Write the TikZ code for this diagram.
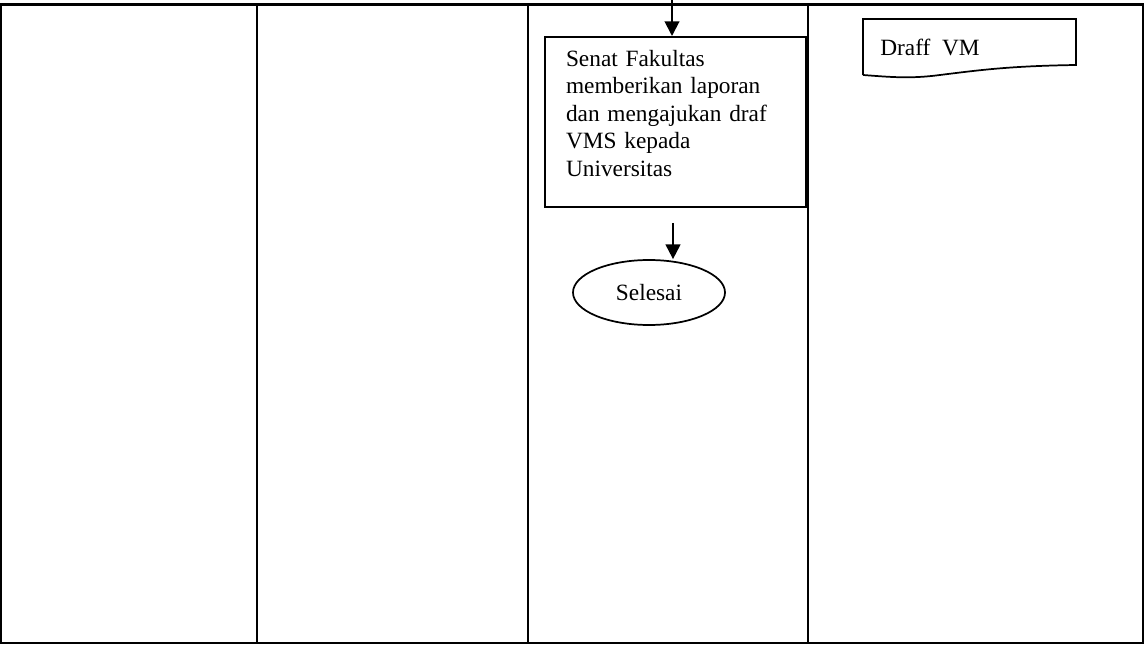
\documentclass[tikz,border=0pt]{standalone}
\usepackage{fontspec}
\setmainfont{Liberation Serif}
\usetikzlibrary{shapes.geometric,arrows.meta}
\begin{document}
\begin{tikzpicture}[x=0.75pt,y=-0.75pt,
  lane/.style={line width=1.6pt},
  flowline/.style={line width=1.5pt,-{Triangle[length=11pt,width=11pt]}},
  procbox/.style={draw,line width=1.5pt,rectangle,minimum width=195.75pt,minimum height=127.5pt,
    text width=164.25pt,inner xsep=15.75pt,align=left,font=\fontsize{17.5}{20.6}\selectfont},
  terminal/.style={draw,line width=1.3pt,ellipse,minimum width=114pt,minimum height=48.75pt,inner sep=0pt,
    font=\fontsize{17.5}{20.6}\selectfont},
  docshape/.style={draw,line width=1.3pt},
  doctext/.style={anchor=base west,inner sep=0pt,font=\fontsize{17.5}{20.6}\selectfont}]
\useasboundingbox (0,0) rectangle (1145,645);
\fill[white] (0,0) rectangle (1145,645);

% swimlane frame
\draw[lane] (1.2,4.5) rectangle (1143,643);
\draw[lane] (257,4.5) -- (257,643);
\draw[lane] (528,4.5) -- (528,643);
\draw[lane] (808,4.5) -- (808,643);

% process step and terminator
\node[procbox] (senat) at (675.5,122) {Senat Fakultas\\memberikan laporan\\dan mengajukan draf\\VMS kepada\\Universitas\rule[-13pt]{0pt}{13pt}};
\node[terminal] (selesai) at (649,292.5) {Selesai};

% connectors
\coordinate (incoming) at (672,0);
\coordinate (outgoing) at (673,223);
\draw[flowline] (incoming) -- (incoming |- senat.north);
\draw[flowline] (outgoing) -- (outgoing |- selesai.north);

% document symbol
\coordinate (dnw) at (863,19);
\coordinate (dne) at (1076,19);
\coordinate (dse) at (1076,65);
\coordinate (dsw) at (863,75);
\draw[docshape] (dsw) -- (dnw) -- (dne) -- (dse)
  .. controls (1010,66) and (980,70) .. (940,75)
  .. controls (910,79) and (890,77) .. (dsw);
\node[doctext] (draft) at (880,56) {Draff\ \ VM};
\end{tikzpicture}
\end{document}
